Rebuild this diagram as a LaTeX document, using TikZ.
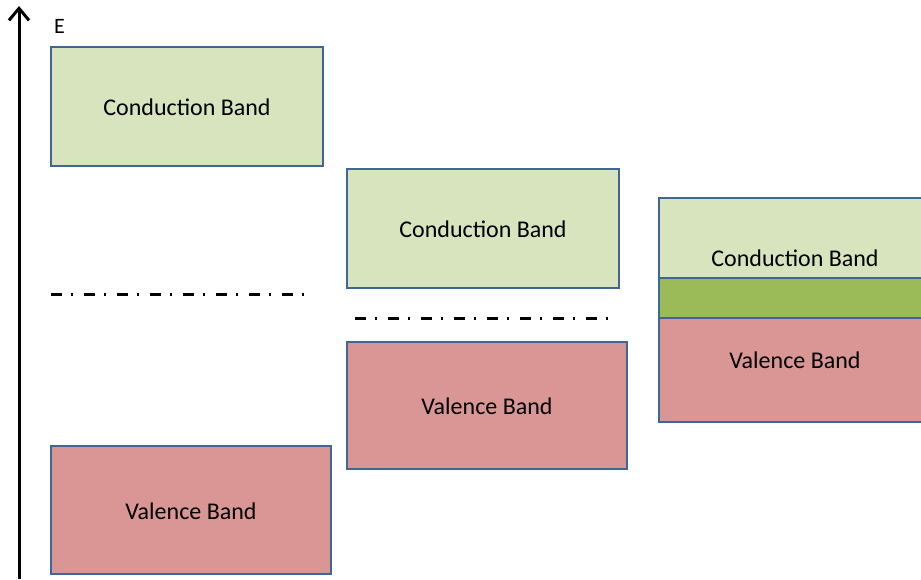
\documentclass[tikz,border=0pt]{standalone}
\usepackage{fontspec}
\setmainfont{Carlito}
\definecolor{cbfill}{HTML}{D7E4BD}
\definecolor{vbfill}{HTML}{D99694}
\definecolor{midfill}{HTML}{9BBB59}
\definecolor{edge}{HTML}{3F6697}
\tikzset{
  band/.style={draw=edge, line width=2pt},
  lbl/.style={font=\fontsize{24}{28}\selectfont, inner sep=0pt},
  fermi/.style={line width=3pt, dash pattern=on 11pt off 9pt on 2pt off 11pt},
  axis/.style={line width=3pt, -{Straight Barb[length=12pt,width=20pt,line width=3pt]}}
}
\usetikzlibrary{arrows.meta}
\begin{document}
\begin{tikzpicture}[x=1pt,y=-1pt]
  \useasboundingbox (0,0) rectangle (921,579);
  \clip (0,0) rectangle (921,579);
  % energy axis
  \coordinate (axbot) at (19,579);
  \coordinate (axtop) at (19,6);
  \draw[axis] (axbot) -- (axtop);
  \node[lbl, font=\fontsize{22}{26}\selectfont, anchor=base west] (elabel) at (54,33) {E};
  % first column: wide gap
  \draw[band, fill=cbfill] (51,47) rectangle (323,166);
  \node[lbl] (cb1) at (187,107) {Conduction Band};
  \draw[band, fill=vbfill] (51,446) rectangle (331,574);
  \node[lbl] (vb1) at (191,511) {Valence Band};
  \coordinate (f1a) at (51,294);
  \coordinate (f1b) at (308,294);
  \draw[fermi] (f1a) -- (f1b);
  % second column: narrow gap
  \draw[band, fill=cbfill] (347,169) rectangle (619,288);
  \node[lbl] (cb2) at (483,229) {Conduction Band};
  \draw[band, fill=vbfill] (347,342) rectangle (627,469);
  \node[lbl] (vb2) at (487,406) {Valence Band};
  \coordinate (f2a) at (355,318);
  \coordinate (f2b) at (612,318);
  \draw[fermi] (f2a) -- (f2b);
  % third column: overlapping bands
  \draw[band, fill=cbfill] (659,198) rectangle (930,278);
  \draw[band, fill=midfill] (659,278) rectangle (930,318);
  \draw[band, fill=vbfill] (659,318) rectangle (930,422);
  \node[lbl] (cb3) at (795,258) {Conduction Band};
  \node[lbl] (vb3) at (795,360) {Valence Band};
\end{tikzpicture}
\end{document}
